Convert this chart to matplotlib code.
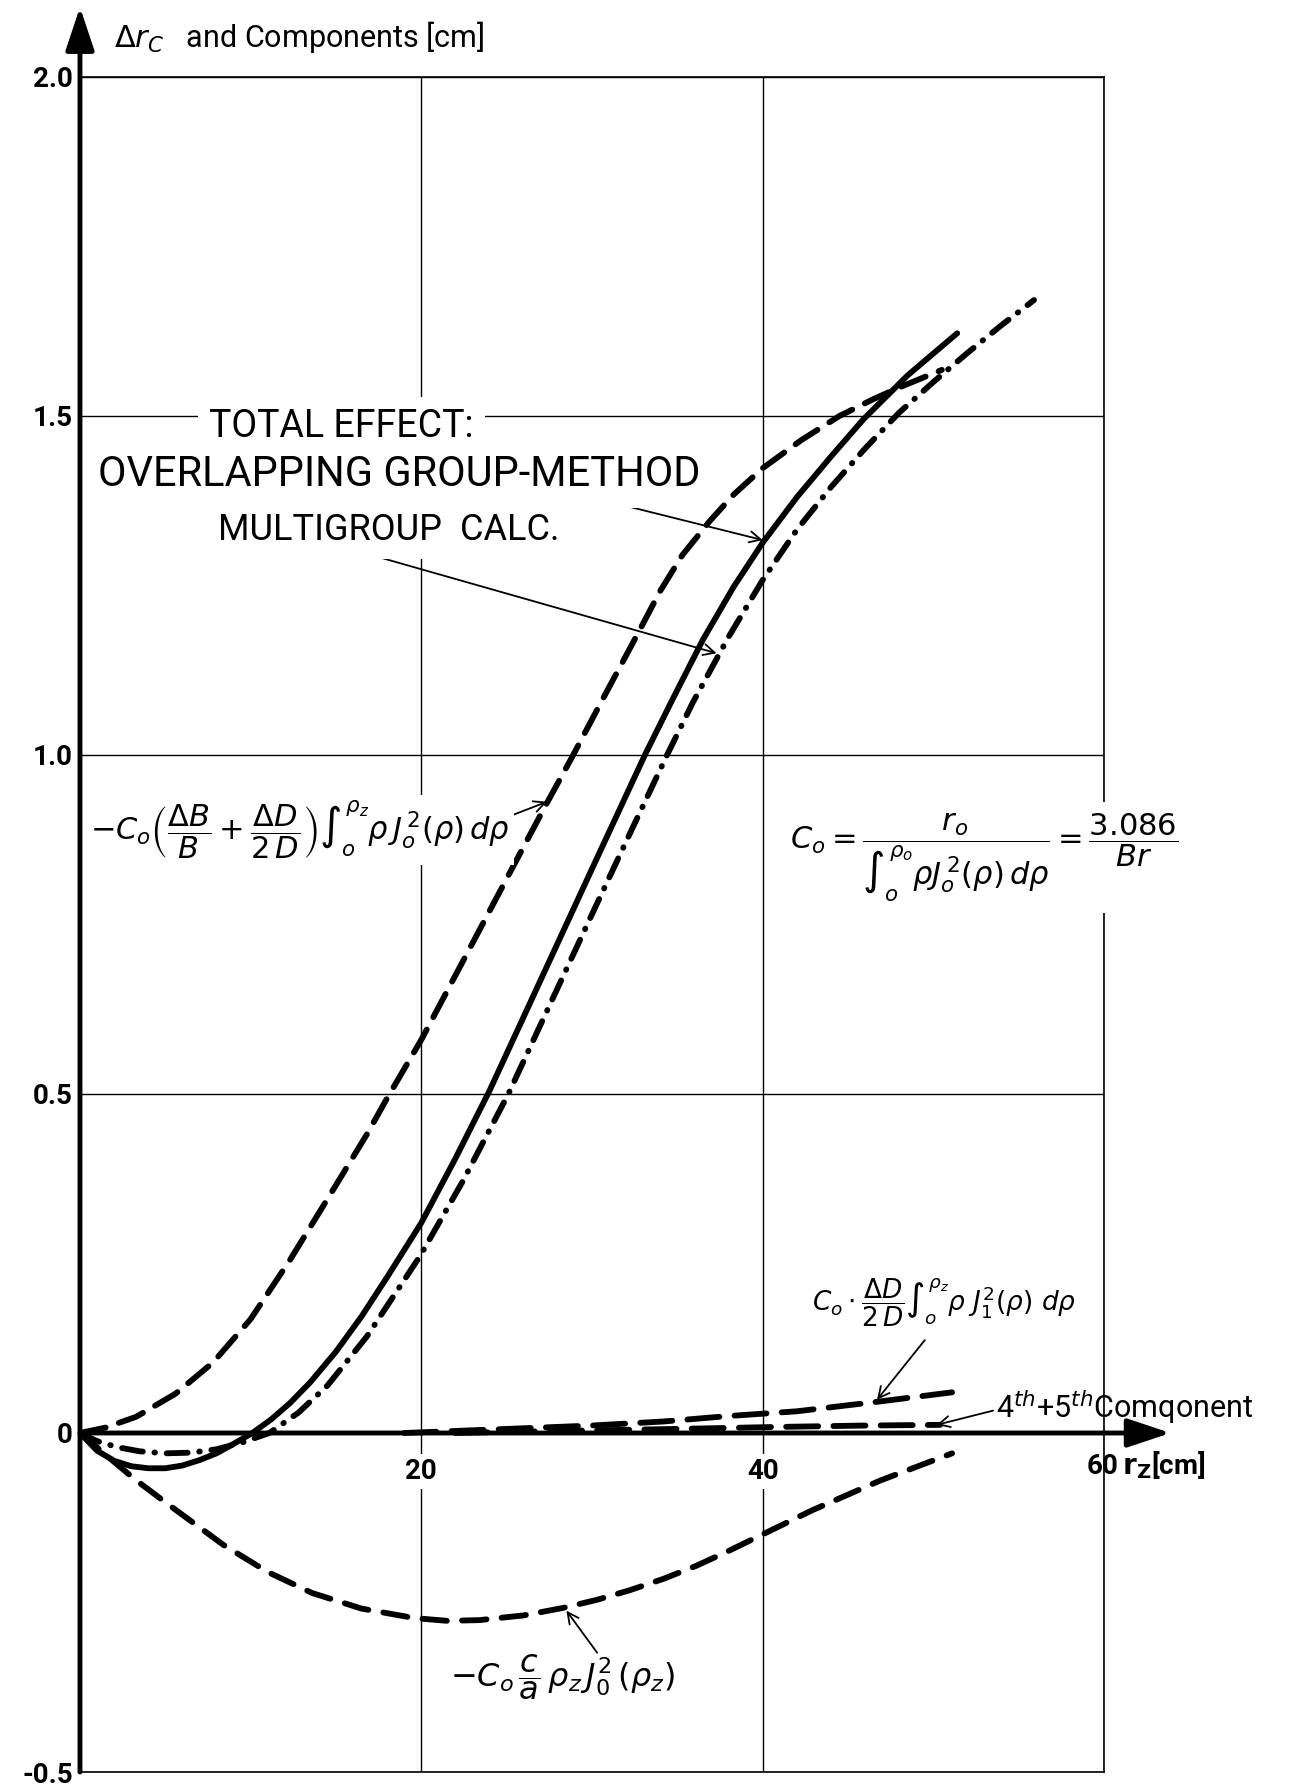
import matplotlib
matplotlib.use('Agg')
import matplotlib.pyplot as plt

plt.rcParams['font.family'] = ['Roboto', 'DejaVu Sans']
plt.rcParams['mathtext.fontset'] = 'dejavusans'

# radius r_z [cm] and shift [cm]
# total effect, overlapping group method (solid)
total_ovl_x = [0, 1, 2, 3, 4, 5, 6, 7, 8, 9, 10.1, 11.2, 12.3, 13.5, 15.0, 16.5, 18.0, 20.0,
               22.0, 24.0, 26.0, 28.0, 30.0, 33.1, 34.7, 36.5, 38.3, 40.0, 42.0, 44.0, 45.9,
               48.5, 51.4]
total_ovl_y = [0, -0.026, -0.041, -0.049, -0.052, -0.052, -0.048, -0.040, -0.030, -0.016, 0,
               0.020, 0.044, 0.075, 0.12, 0.172, 0.23, 0.31, 0.405, 0.505, 0.614, 0.723,
               0.832, 1.0, 1.081, 1.17, 1.248, 1.313, 1.38, 1.44, 1.495, 1.56, 1.622]

# total effect, multigroup calculation (dash-dot)
total_multi_x = [0, 1, 2.2, 3.5, 5, 6.5, 8, 9.5, 11.1, 12.8, 14.5, 16.8, 19.9, 22.4, 25.1,
                 27.5, 30, 32.2, 34.4, 35.9, 38, 40, 42, 44, 46, 48, 50, 52, 54, 55.9]
total_multi_y = [0, -0.012, -0.021, -0.027, -0.030, -0.029, -0.024, -0.014, 0, 0.03, 0.07,
                 0.142, 0.26, 0.37, 0.5, 0.63, 0.765, 0.883, 1.0, 1.077, 1.174, 1.258, 1.332,
                 1.395, 1.452, 1.505, 1.55, 1.593, 1.634, 1.671]

# -C0 (dB/B + dD/2D) component (dashed)
comp_b_x = [0, 1.5, 3.3, 5.6, 7.8, 10, 12.3, 14.5, 16.8, 18, 20, 22, 24, 26, 27.4, 28.9,
            30.6, 32.6, 34, 35.3, 36.9, 38.3, 40, 42.3, 44.5, 46.5, 48, 50.5]
comp_b_y = [0, 0.008, 0.024, 0.058, 0.104, 0.168, 0.255, 0.345, 0.44, 0.494, 0.58, 0.675,
            0.77, 0.865, 0.931, 1.0, 1.081, 1.175, 1.242, 1.295, 1.345, 1.384, 1.423, 1.465,
            1.5, 1.525, 1.542, 1.568]

# -C0 c/a rho_z J0^2 component (dashed, negative)
comp_c_x = [0, 1.5, 3.2, 5.1, 8.4, 11, 13.6, 16.5, 19.6, 21.5, 23.4, 26, 28.3, 30.3, 32.2,
            34.2, 36.1, 38, 39.8, 42.9, 46.9, 51.1]
comp_c_y = [0, -0.032, -0.068, -0.104, -0.165, -0.205, -0.236, -0.259, -0.273, -0.277,
            -0.276, -0.269, -0.258, -0.246, -0.232, -0.215, -0.196, -0.174, -0.152, -0.114,
            -0.070, -0.030]

# C0 dD/2D component (dashed, small)
comp_d_x = [19, 25, 30, 34.2, 38, 42, 46.7, 51.1]
comp_d_y = [0, 0.006, 0.011, 0.017, 0.025, 0.032, 0.046, 0.060]

# 4th + 5th component (dashed, small)
comp_45_x = [22, 28, 35, 41, 46, 50.4]
comp_45_y = [0, 0.003, 0.006, 0.009, 0.011, 0.012]

x_ticks = [20, 40, 60]
x_labels = ['20', '40', '60']
y_ticks = [-0.5, 0, 0.5, 1.0, 1.5, 2.0]
y_labels = ['-0.5', '0', '0.5', '1.0', '1.5', '2.0']


def note_arrow(ax, tip, tail):
    ax.annotate('', xy=tip, xytext=tail,
                arrowprops=dict(arrowstyle='->', lw=1.3, color='k', shrinkA=0, shrinkB=0,
                                mutation_scale=20))


def main():
    fig = plt.figure(figsize=(12.9, 17.85), dpi=100)
    ax = fig.add_axes([0.062, 0.00728, 0.7938, 0.9496])
    ax.set_xlim(0, 60)
    ax.set_ylim(-0.5, 2.0)

    ax.spines['left'].set_visible(False)
    ax.spines['bottom'].set_position(('data', 0))
    ax.spines['bottom'].set_visible(False)
    for s in ['top', 'right']:
        ax.spines[s].set_linewidth(1.2)
    ax.axhline(-0.5, color='k', lw=1.2, clip_on=False)

    ax.set_xticks(x_ticks, labels=x_labels[:2] + [''])
    ax.set_yticks(y_ticks, labels=y_labels)
    ax.tick_params(length=0, labelsize=20)
    ax.tick_params(axis='x', pad=18)
    ax.tick_params(axis='y', pad=5)
    for lab in ax.get_xticklabels() + ax.get_yticklabels():
        lab.set_fontweight('bold')
    for lab in ax.get_xticklabels():
        lab.set_bbox(dict(boxstyle='square,pad=0.15', fc='white', ec='none'))
    ax.grid(True, color='k', lw=1.0, zorder=0)
    ax.set_axisbelow(True)

    # thick coordinate arrows
    arrow = dict(arrowstyle='-|>,head_length=1.2,head_width=0.4', lw=3.5, color='k',
                 mutation_scale=22, shrinkA=0, shrinkB=0)
    ax.annotate('', xy=(0, 2.103), xytext=(0, -0.5), arrowprops=arrow,
                annotation_clip=False, zorder=6)
    ax.annotate('', xy=(63.9, 0), xytext=(0, 0), arrowprops=arrow,
                annotation_clip=False, zorder=6)

    lw = 4.2
    ax.plot(total_ovl_x, total_ovl_y, color='k', lw=lw, solid_capstyle='round',
            solid_joinstyle='round', zorder=4)
    ax.plot(total_multi_x, total_multi_y, color='k', lw=lw, ls=(0, (3.6, 2.0, 0.1, 2.0)),
            dash_capstyle='round', zorder=4)
    ax.plot(comp_b_x, comp_b_y, color='k', lw=lw, ls=(0, (4.5, 2.4)),
            dash_capstyle='round', zorder=4)
    ax.plot(comp_c_x, comp_c_y, color='k', lw=lw, ls=(0, (4.2, 2.6)),
            dash_capstyle='round', zorder=4)
    ax.plot(comp_d_x, comp_d_y, color='k', lw=lw, ls=(0, (5.5, 2.6)),
            dash_capstyle='round', zorder=4)
    ax.plot(comp_45_x, comp_45_y, color='k', lw=lw, ls=(0, (5.5, 2.6)),
            dash_capstyle='round', zorder=4)

    white = dict(boxstyle='square,pad=0.3', fc='white', ec='none')
    white_tight = dict(boxstyle='square,pad=0.12', fc='white', ec='none')

    ax.text(2.0, 2.059, r'$\Delta r_C$   and Components [cm]', fontsize=22,
            ha='left', va='center')
    ax.text(58.93, -0.047, x_labels[2] + r'$\,\mathbf{r_Z}$[cm]', fontsize=20,
            fontweight='bold', ha='left', va='center')

    ax.text(7.56, 1.484, 'TOTAL EFFECT:', fontsize=27, ha='left', va='center',
            bbox=white, zorder=5)
    ax.text(1.05, 1.413, 'OVERLAPPING GROUP-METHOD', fontsize=30, ha='left',
            va='center', bbox=white, zorder=5)
    ax.text(8.08, 1.332, 'MULTIGROUP  CALC.', fontsize=26, ha='left', va='center',
            bbox=white, zorder=5)
    note_arrow(ax, (40.0, 1.317), (32.2, 1.366))
    note_arrow(ax, (37.3, 1.150), (16.5, 1.299))

    ax.text(0.6, 0.889,
            r'$-C_o\left(\dfrac{\Delta B}{B}+\dfrac{\Delta D}{2\,D}\right)'
            r'\int_o^{\rho_z}\rho\,J_o^{\,2}(\rho)\,d\rho$',
            fontsize=22, ha='left', va='center', bbox=white_tight, zorder=5)
    note_arrow(ax, (27.36, 0.931), (25.1, 0.909))

    ax.text(41.6, 0.862,
            r'$C_o=\dfrac{r_o}{\int_o^{\rho_o}\rho J_o^{\,2}(\rho)\,d\rho}=\dfrac{3.086}{Br}$',
            fontsize=22, ha='left', va='baseline', bbox=white, zorder=5)

    ax.text(42.9, 0.193,
            r'$C_o\cdot\dfrac{\Delta D}{2\,D}\int_o^{\rho_z}\rho\ J_1^2(\rho)\ d\rho$',
            fontsize=19, ha='left', va='center', zorder=5)
    note_arrow(ax, (46.7, 0.049), (49.5, 0.137))

    ax.text(53.7, 0.038, r'4$^{th}$+5$^{th}$Comqonent', fontsize=22, ha='left',
            va='center', zorder=5)
    note_arrow(ax, (50.2, 0.012), (53.5, 0.033))

    ax.text(21.7, -0.360, r'$-C_o\,\dfrac{c}{a}\,\rho_z\,J_0^2\,(\rho_z)$',
            fontsize=23, ha='left', va='center', zorder=5)
    note_arrow(ax, (28.5, -0.262), (30.3, -0.324))

    fig.savefig('out.png', dpi=100)


if __name__ == '__main__':
    main()
